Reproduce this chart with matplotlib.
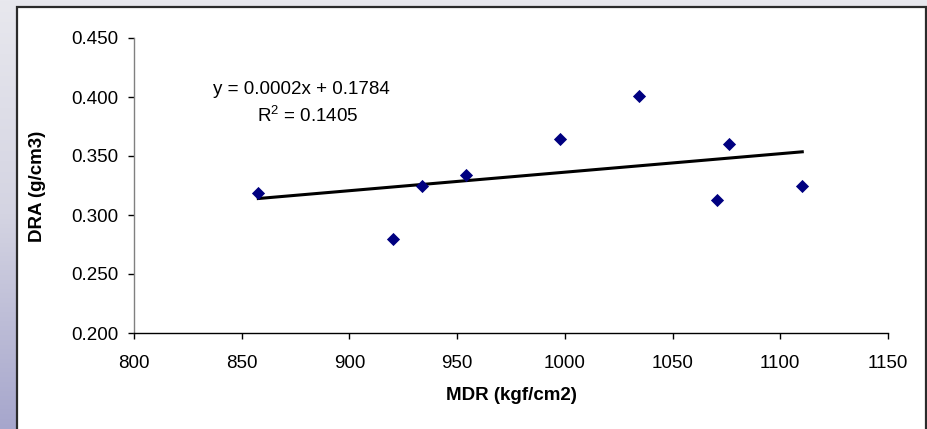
import numpy as np
import matplotlib
matplotlib.use("Agg")
import matplotlib.pyplot as plt
from matplotlib.patches import Rectangle
from matplotlib.colors import LinearSegmentedColormap

plt.rcParams['font.family'] = ['Liberation Sans', 'DejaVu Sans']
plt.rcParams['mathtext.fontset'] = 'custom'
plt.rcParams['mathtext.rm'] = 'Liberation Sans'
plt.rcParams['mathtext.it'] = 'Liberation Sans:italic'

# Data
mdr = [857.7, 920.1, 933.8, 954.0, 997.9, 1034.6, 1070.4, 1076.1, 1110.2]
dra = [0.3186, 0.2799, 0.3242, 0.3336, 0.3647, 0.4010, 0.3130, 0.3602, 0.3242]
x_ticks = [800, 850, 900, 950, 1000, 1050, 1100, 1150]
y_ticks = [0.200, 0.250, 0.300, 0.350, 0.400, 0.450]
eq_line1 = "y = 0.0002x + 0.1784"
eq_line2 = "R$^2$ = 0.1405"
x_label = "MDR (kgf/cm2)"
y_label = "DRA (g/cm3)"

W, H = 928, 429
FS = 13.5
fig = plt.figure(figsize=(W / 100, H / 100), dpi=100)

# background gradient
bg = fig.add_axes([0, 0, 1, 1], zorder=-10)
bg.set_axis_off()
cmap = LinearSegmentedColormap.from_list("bg", ["#e8e8ee", "#d4d4e2", "#a6a6cc"])
grad = np.linspace(0, 1, 256).reshape(-1, 1)
bg.imshow(grad, aspect='auto', cmap=cmap, extent=[0, 1, 0, 1], origin='upper')
bg.set_xlim(0, 1)
bg.set_ylim(0, 1)
# white chart box
bx0, bx1 = 17 / W, 926 / W
by0, by1 = -5 / H, 1 - 7 / H
bg.add_patch(Rectangle((bx0, by0), bx1 - bx0, by1 - by0, facecolor='white',
                       edgecolor='#2b2b2b', linewidth=1.6, transform=bg.transAxes))

ax = fig.add_axes([134 / W, 1 - 333 / H, (888 - 134) / W, (333 - 38) / H])
ax.set_facecolor('none')

ax.scatter(mdr, dra, marker='D', s=45, color='#000080', zorder=3, linewidths=0)

coef = np.polyfit(mdr, dra, 1)
xs = np.array([min(mdr), max(mdr)])
ax.plot(xs, np.polyval(coef, xs), color='black', linewidth=2.2, zorder=2)

ax.set_xlim(800, 1150)
ax.set_ylim(0.2, 0.45)
ax.set_xticks(x_ticks)
ax.set_yticks(y_ticks)
ax.set_xticklabels([str(v) for v in x_ticks])
ax.set_yticklabels([f"{v:.3f}" for v in y_ticks])

for s in ['top', 'right']:
    ax.spines[s].set_visible(False)
ax.spines['left'].set_color('#808080')
ax.spines['bottom'].set_color('black')
ax.spines['left'].set_linewidth(1.0)
ax.spines['bottom'].set_linewidth(1.0)

ax.tick_params(axis='x', direction='out', length=4, width=1, color='black', pad=12, labelsize=FS)
ax.tick_params(axis='y', direction='out', length=4, width=1, color='black', pad=7, labelsize=FS)

fig.text(38 / W, 1 - 186 / H, y_label, rotation=90, fontsize=FS, fontweight='bold',
         ha='center', va='center')
fig.text(511 / W, 1 - 395 / H, x_label, fontsize=FS, fontweight='bold',
         ha='center', va='center')

# equation annotation (placed in axes-fraction coordinates)
ax.text((301 - 134) / (888 - 134), (333 - 89) / (333 - 38), eq_line1,
        transform=ax.transAxes, fontsize=FS, ha='center', va='center')
ax.text((308 - 134) / (888 - 134), (333 - 116) / (333 - 38), eq_line2,
        transform=ax.transAxes, fontsize=FS, ha='center', va='center')

fig.savefig("out.png", dpi=100)
